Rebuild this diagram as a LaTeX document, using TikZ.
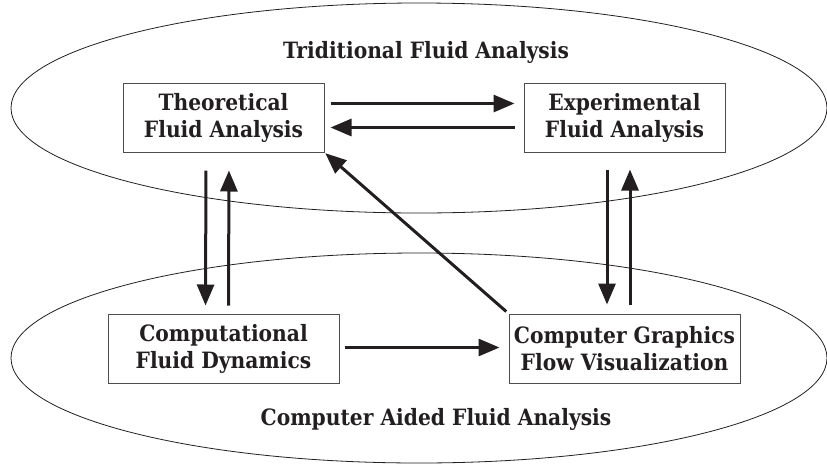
\documentclass[tikz,border=0pt]{standalone}
\usepackage{fontspec}
\setmainfont{DejaVu Serif Condensed}
\usetikzlibrary{arrows.meta, positioning, shapes.geometric}
\definecolor{ink}{HTML}{231F20}
\definecolor{frame}{HTML}{4D4D4D}
\tikzset{
  region/.style={
    ellipse,
    draw=ink,
    line width=0.8pt,
    minimum width=816pt,
    minimum height=210pt,
    inner sep=0pt
  },
  heading/.style={anchor=base, text=ink, font=\fontsize{22.5}{27}\selectfont\bfseries},
  box/.style={
    draw=frame,
    line width=1pt,
    align=center,
    minimum height=69pt,
    inner sep=0pt,
    text=ink,
    font=\fontsize{22.5}{27}\selectfont\bfseries
  },
  narrowbox/.style={box, minimum width=201pt},
  widebox/.style={box, minimum width=231pt},
  arrow/.style={-{Triangle[length=21pt, width=17pt]}, line width=3pt, draw=ink}
}

\begin{document}
\begin{tikzpicture}[x=1pt, y=-1pt]
\useasboundingbox (0,0) rectangle (827,464);

% the two fields of analysis
\node[region] (traditional) at (419,108) {};
\node[region] (aided) at (419,358) {};
\node[heading] (tradtitle) at (426,58) {Triditional Fluid Analysis};
\node[heading] (aidedtitle) at (436,425) {Computer Aided Fluid Analysis};

\node[narrowbox] (theory) at (223.5,117.5) {Theoretical\\Fluid Analysis};
\node[narrowbox, right=199pt of theory] (experiment) {Experimental\\Fluid Analysis};
\node[widebox, below=161pt of theory] (cfd) {Computational\\Fluid Dynamics};
\node[widebox, right=169pt of cfd] (graphics) {Computer Graphics\\Flow Visualization};

\draw[arrow, shorten <=6pt, shorten >=9pt] ([yshift=14pt]theory.east) -- ([yshift=14pt]experiment.west);
\draw[arrow, shorten <=9pt, shorten >=6pt] ([yshift=-10pt]experiment.west) -- ([yshift=-10pt]theory.east);
\draw[arrow, shorten <=18pt, shorten >=8pt] ([xshift=-17.5pt]theory.south) -- ([xshift=-18pt]cfd.north);
\draw[arrow, shorten <=8pt, shorten >=18pt] ([xshift=5pt]cfd.north) -- ([xshift=5.5pt]theory.south);
\draw[arrow, shorten <=17pt, shorten >=9pt] ([xshift=-17.5pt]experiment.south) -- ([xshift=-17.5pt]graphics.north);
\draw[arrow, shorten <=9pt, shorten >=17pt] ([xshift=5.5pt]graphics.north) -- ([xshift=5.5pt]experiment.south);
\draw[arrow, shorten <=5pt, shorten >=9pt] ([yshift=1pt]cfd.east) -- ([yshift=1pt]graphics.west);
\draw[arrow, shorten <=3pt, shorten >=1pt] (graphics.north west) -- (theory.south east);

\end{tikzpicture}
\end{document}
